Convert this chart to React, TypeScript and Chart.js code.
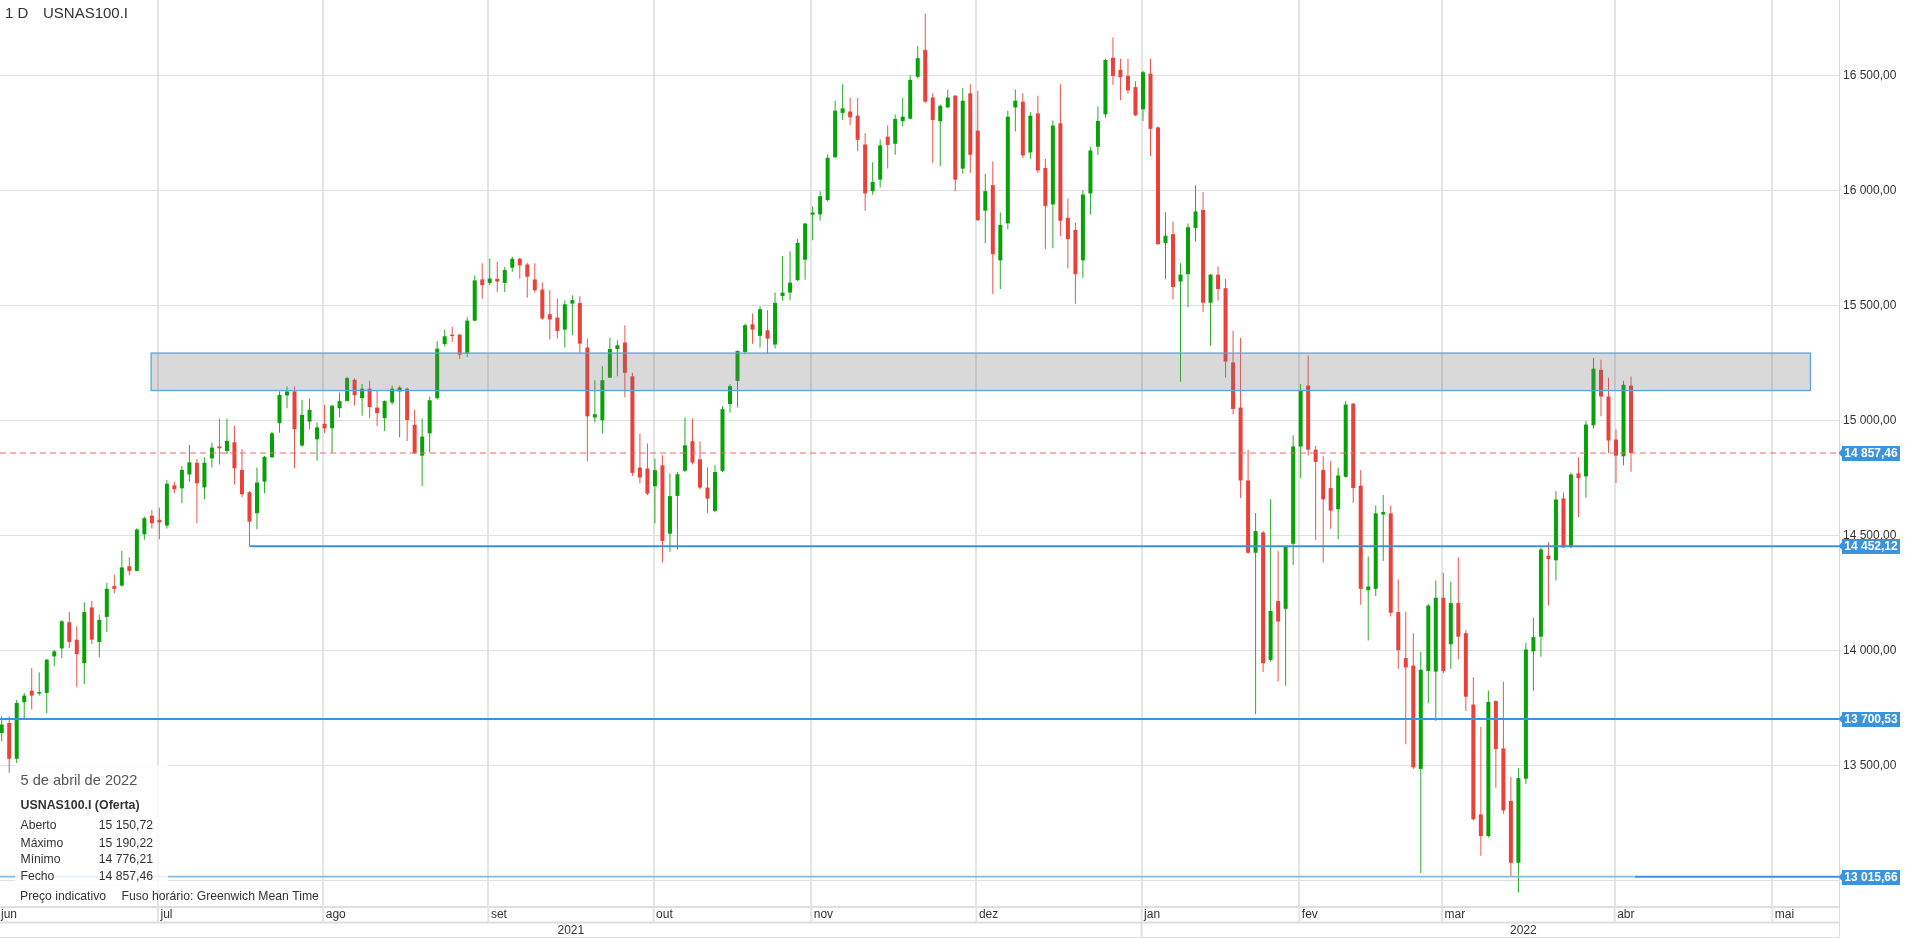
import React, { useEffect, useRef } from 'react';
import { Chart, registerables } from 'chart.js';

Chart.register(...registerables);

const FONT = '"Liberation Sans", Arial, sans-serif';

const SYMBOL = 'USNAS100.I';
const PERIOD = '1 D';

// Daily candles (weekdays), index 0 = first visible candle (early June 2021), last = 5 Apr 2022
const OPEN = [
  13640, 13684, 13528, 13774, 13824, 13812, 13814, 13973, 14008, 14122,
  14046, 13944, 14186, 14036, 14145, 14279, 14281, 14365, 14345, 14504,
  14585, 14567, 14542, 14717, 14704, 14764, 14815, 14708, 14834, 14886,
  14866, 14904, 14784, 14687, 14596, 14733, 14839, 14987, 15108, 15125,
  14890, 14994, 14917, 14984, 14965, 15052, 15084, 15176, 15096, 15137,
  15055, 15009, 15077, 15125, 15137, 14980, 14846, 14943, 15096, 15331,
  15372, 15372, 15289, 15433, 15612, 15597, 15615, 15597, 15663, 15702,
  15677, 15612, 15568, 15461, 15446, 15394, 15507, 15510, 15316, 15012,
  15000, 15185, 15310, 15338, 15191, 14794, 14790, 14713, 14804, 14507,
  14671, 14780, 14909, 14830, 14707, 14606, 14780, 15070, 15171, 15297,
  15417, 15367, 15391, 15329, 15540, 15555, 15609, 15698, 15894, 15895,
  15957, 16144, 16336, 16342, 16324, 16199, 15996, 16046, 16233, 16202,
  16300, 16311, 16493, 16610, 16403, 16300, 16360, 16411, 16094, 16421,
  16259, 15911, 16022, 15695, 15856, 16360, 16385, 16164, 16334, 16097,
  15938, 16291, 15880, 15827, 15695, 15986, 16189, 16330, 16576, 16523,
  16497, 16448, 16352, 16507, 16273, 15770, 15809, 15603, 15635, 15835,
  15914, 15511, 15633, 15574, 15251, 15055, 14738, 14424, 14512, 13958,
  14214, 14180, 14463, 14886, 15151, 14872, 14784, 14705, 14613, 14754,
  15072, 14715, 14261, 14267, 14590, 14595, 14166, 13966, 13933, 13484,
  13910, 13907, 14228, 14026, 14205, 14074, 13764, 13286, 13192, 13779,
  13573, 13345, 13076, 13441, 13995, 14059, 14411, 14391, 14660, 14453,
  14769, 14756, 14978, 15219, 15103, 14916, 14843, 15150.72,
];
const HIGH = [
  13713, 13713, 13785, 13814, 13923, 13904, 13962, 14002, 14130, 14166,
  14104, 14209, 14215, 14154, 14292, 14328, 14432, 14404, 14530, 14581,
  14610, 14620, 14740, 14732, 14801, 14892, 14831, 14839, 14902, 15006,
  15006, 14975, 14875, 14692, 14795, 14845, 14950, 15125, 15147, 15147,
  15089, 15093, 14990, 15067, 15067, 15121, 15189, 15183, 15157, 15172,
  15131, 15087, 15151, 15150, 15142, 15045, 15007, 15103, 15344, 15394,
  15406, 15376, 15449, 15629, 15682, 15703, 15689, 15666, 15711, 15706,
  15685, 15682, 15600, 15565, 15529, 15522, 15543, 15539, 15355, 15174,
  15235, 15359, 15348, 15413, 15206, 14942, 14899, 14833, 14848, 14768,
  14775, 15012, 15007, 14909, 14794, 14804, 15061, 15156, 15304, 15420,
  15464, 15496, 15478, 15555, 15713, 15735, 15788, 15859, 15930, 15996,
  16156, 16389, 16461, 16401, 16401, 16248, 16122, 16220, 16281, 16329,
  16401, 16501, 16627, 16768, 16422, 16372, 16438, 16414, 16444, 16461,
  16432, 16072, 16125, 15903, 16346, 16438, 16422, 16339, 16411, 16137,
  16303, 16461, 15964, 15860, 16000, 16189, 16365, 16572, 16664, 16572,
  16572, 16474, 16519, 16572, 16277, 15904, 15864, 15682, 15855, 16022,
  15992, 15636, 15668, 15615, 15389, 15357, 14872, 14597, 14518, 14656,
  14430, 14454, 14935, 15157, 15281, 14888, 14843, 14823, 14793, 15084,
  15076, 14784, 14407, 14629, 14675, 14629, 14307, 14168, 14074, 13992,
  14202, 14303, 14337, 14298, 14404, 14088, 13883, 13666, 13825, 13782,
  13863, 13449, 13487, 14031, 14140, 14447, 14469, 14691, 14686, 14772,
  14839, 14997, 15270, 15263, 15185, 14960, 15172, 15190.22,
];
const LOW = [
  13604, 13467, 13510, 13698, 13742, 13803, 13727, 13930, 13966, 14010,
  13840, 13853, 14027, 13970, 14079, 14248, 14277, 14325, 14342, 14480,
  14529, 14483, 14529, 14682, 14639, 14733, 14552, 14656, 14795, 14807,
  14853, 14721, 14665, 14454, 14526, 14682, 14836, 14946, 15052, 14791,
  14885, 14961, 14824, 14943, 14859, 15013, 15081, 15064, 15019, 15009,
  14975, 14953, 15067, 14926, 14910, 14853, 14714, 14860, 15090, 15321,
  15340, 15266, 15275, 15430, 15528, 15587, 15558, 15558, 15645, 15615,
  15532, 15554, 15437, 15351, 15355, 15316, 15369, 15293, 14822, 14990,
  14942, 15184, 15191, 15099, 14757, 14725, 14675, 14551, 14381, 14428,
  14438, 14775, 14807, 14699, 14598, 14600, 14775, 15033, 15055, 15287,
  15333, 15316, 15290, 15312, 15519, 15522, 15604, 15611, 15782, 15867,
  15952, 16140, 16305, 16284, 16169, 15911, 15980, 16012, 16094, 16154,
  16277, 16307, 16487, 16378, 16118, 16104, 16357, 15996, 16072, 16076,
  15866, 15769, 15549, 15571, 15830, 16255, 16140, 16137, 16075, 15744,
  15748, 15801, 15661, 15506, 15618, 15894, 16153, 16316, 16458, 16391,
  16421, 16322, 16301, 16149, 15762, 15613, 15526, 15167, 15491, 15776,
  15471, 15324, 15521, 15186, 15025, 14662, 14420, 13722, 13905, 13950,
  13864, 13846, 14371, 14748, 14847, 14479, 14381, 14528, 14483, 14750,
  14640, 14198, 14042, 14236, 14388, 14147, 13919, 13591, 13484, 13032,
  13770, 13692, 13900, 13919, 13961, 13736, 13260, 13107, 13186, 13402,
  13289, 13018, 12947, 13418, 13824, 13972, 14194, 14303, 14443, 14443,
  14579, 14663, 14963, 15017, 14857, 14727, 14804, 14776.21,
];
const CLOSE = [
  13677, 13528, 13771, 13803, 13803, 13818, 13959, 13995, 14126, 14036,
  13983, 14166, 14046, 14132, 14267, 14267, 14360, 14345, 14525, 14574,
  14552, 14556, 14724, 14700, 14784, 14817, 14726, 14815, 14881, 14878,
  14910, 14791, 14678, 14559, 14729, 14841, 14943, 15110, 15125, 14961,
  15023, 15045, 14969, 14965, 15063, 15083, 15183, 15109, 15137, 15057,
  15031, 15083, 15137, 15142, 15001, 14856, 14929, 15087, 15311, 15365,
  15366, 15285, 15433, 15608, 15587, 15616, 15603, 15653, 15702, 15673,
  15624, 15565, 15442, 15438, 15388, 15504, 15522, 15333, 15017, 15026,
  15174, 15310, 15326, 15206, 14771, 14751, 14681, 14783, 14475, 14670,
  14765, 14891, 14816, 14707, 14659, 14775, 15048, 15148, 15301, 15413,
  15394, 15483, 15355, 15510, 15555, 15598, 15771, 15855, 15903, 15974,
  16141, 16346, 16356, 16317, 16219, 15986, 16036, 16195, 16197, 16310,
  16320, 16480, 16574, 16385, 16305, 16367, 16403, 16046, 16389, 16154,
  15870, 15996, 15722, 15849, 16320, 16389, 16151, 16324, 16086, 15931,
  16281, 15867, 15787, 15635, 15981, 16173, 16301, 16566, 16497, 16491,
  16434, 16326, 16513, 16267, 15766, 15802, 15579, 15633, 15839, 15908,
  15511, 15633, 15570, 15255, 15049, 14738, 14424, 14518, 13943, 14171,
  14125, 14450, 14886, 15128, 14872, 14819, 14656, 14607, 14760, 15068,
  14705, 14267, 14277, 14595, 14601, 14163, 14000, 13925, 13491, 13915,
  14194, 14228, 13910, 14205, 14059, 13798, 13265, 13192, 13775, 13570,
  13304, 13076, 13444, 14003, 14057, 14438, 14396, 14655, 14447, 14764,
  14748, 14981, 15224, 15103, 14912, 14846, 15154, 14857.46,
];

// Month boundaries (candle index of first trading day of each month)
const MONTH_LABELS = ['jun', 'jul', 'ago', 'set', 'out', 'nov', 'dez', 'jan', 'fev', 'mar', 'abr', 'mai'];
const MONTH_START_INDEX = [-1, 21, 43, 65, 87, 108, 130, 152, 173, 192, 215, 236];
const YEAR_LABELS = ['2021', '2022'];
const YEAR_START_MONTH = [0, 7];

const Y_TICKS = [13000, 13500, 14000, 14500, 15000, 15500, 16000, 16500];

const LAST_CLOSE = 14857.46;
const LEVEL_1 = 14452.12;
const LEVEL_2 = 13700.53;
const LEVEL_3 = 13015.66;
const LEVEL_1_FROM = 33;
const ZONE_LOW = 15129;
const ZONE_HIGH = 15292;
const ZONE_FROM = 19.9;
const ZONE_TO = 240.9;

const INFO_DATE = '5 de abril de 2022';
const INFO_TITLE = 'USNAS100.I (Oferta)';
const INFO_LABELS = ['Aberto', 'Máximo', 'Mínimo', 'Fecho'];
const INFO_VALUES = [15150.72, 15190.22, 14776.21, 14857.46];

const X_MIN = -0.226;
const X_MAX = 244.7;
const Y_MIN = 12888;
const Y_MAX = 16827;

const GREEN = '#07a207';
const RED = '#e9423a';
const GREEN_WICK = '#2aab2a';
const RED_WICK = '#ec544c';
const BLUE = '#3a93dc';

function fmt(v: number): string {
  const [i, d] = v.toFixed(2).split('.');
  return i.replace(/\B(?=(\d{3})+(?!\d))/g, ' ') + ',' + d;
}

const overlayPlugin = {
  id: 'overlayPlugin',
  afterDatasetsDraw(chart: any) {
    const { ctx, chartArea, scales } = chart;
    const x = scales.x;
    const y = scales.y;
    ctx.save();
    ctx.beginPath();
    ctx.rect(chartArea.left, chartArea.top, chartArea.right - chartArea.left, chartArea.bottom - chartArea.top);
    ctx.clip();

    // zone
    const zx1 = x.getPixelForValue(ZONE_FROM);
    const zx2 = x.getPixelForValue(ZONE_TO);
    const zy1 = y.getPixelForValue(ZONE_HIGH);
    const zy2 = y.getPixelForValue(ZONE_LOW);
    ctx.fillStyle = 'rgba(120,120,120,0.28)';
    ctx.fillRect(zx1, zy1, zx2 - zx1, zy2 - zy1);
    ctx.strokeStyle = '#5aa5e0';
    ctx.lineWidth = 1.3;
    ctx.strokeRect(zx1, zy1, zx2 - zx1, zy2 - zy1);

    // last close dashed
    const yc = y.getPixelForValue(LAST_CLOSE);
    ctx.strokeStyle = '#ef6a62';
    ctx.lineWidth = 1.2;
    ctx.setLineDash([6, 4]);
    ctx.beginPath();
    ctx.moveTo(chartArea.left, yc);
    ctx.lineTo(chartArea.right, yc);
    ctx.stroke();
    ctx.setLineDash([]);

    // levels
    ctx.strokeStyle = BLUE;
    ctx.lineWidth = 2;
    const y1 = y.getPixelForValue(LEVEL_1);
    ctx.beginPath();
    ctx.moveTo(x.getPixelForValue(LEVEL_1_FROM), y1);
    ctx.lineTo(chartArea.right, y1);
    ctx.stroke();
    const y2 = y.getPixelForValue(LEVEL_2);
    ctx.beginPath();
    ctx.moveTo(chartArea.left, y2);
    ctx.lineTo(chartArea.right, y2);
    ctx.stroke();
    const y3 = y.getPixelForValue(LEVEL_3);
    const split = x.getPixelForValue(217.5);
    ctx.strokeStyle = '#7fbce9';
    ctx.lineWidth = 1.6;
    ctx.beginPath();
    ctx.moveTo(chartArea.left, y3);
    ctx.lineTo(split, y3);
    ctx.stroke();
    ctx.strokeStyle = BLUE;
    ctx.lineWidth = 2;
    ctx.beginPath();
    ctx.moveTo(split, y3);
    ctx.lineTo(chartArea.right, y3);
    ctx.stroke();
    ctx.restore();
  },
  afterDraw(chart: any) {
    const { ctx, chartArea, scales, width, height } = chart;
    const x = scales.x;
    const y = scales.y;
    ctx.save();

    // x-axis frame lines
    ctx.strokeStyle = '#dedede';
    ctx.lineWidth = 2;
    ctx.beginPath();
    ctx.moveTo(0, chartArea.bottom + 1);
    ctx.lineTo(chartArea.right, chartArea.bottom + 1);
    ctx.moveTo(0, 922.5);
    ctx.lineTo(chartArea.right, 922.5);
    ctx.stroke();
    ctx.lineWidth = 1;
    ctx.beginPath();
    ctx.moveTo(0, height - 0.5);
    ctx.lineTo(chartArea.right, height - 0.5);
    ctx.moveTo(chartArea.right + 0.5, chartArea.bottom);
    ctx.lineTo(chartArea.right + 0.5, height);
    ctx.stroke();

    // month labels + tick lines
    ctx.font = '12px ' + FONT;
    ctx.fillStyle = '#333';
    ctx.textBaseline = 'middle';
    ctx.textAlign = 'left';
    MONTH_LABELS.forEach((m, i) => {
      const px = x.getPixelForValue(MONTH_START_INDEX[i] - 0.18);
      if (px > chartArea.left) {
        ctx.strokeStyle = '#e4e4e4';
        ctx.lineWidth = 2;
        ctx.beginPath();
        ctx.moveTo(px, chartArea.bottom);
        ctx.lineTo(px, 922);
        ctx.stroke();
      }
      ctx.fillText(m, Math.max(px + 2.5, 1), 914.5);
    });

    // year labels
    const yearEdges = YEAR_START_MONTH.map((mi) => Math.max(x.getPixelForValue(MONTH_START_INDEX[mi] - 0.18), 0));
    ctx.textAlign = 'center';
    YEAR_LABELS.forEach((lab, i) => {
      const a = yearEdges[i];
      const b = i + 1 < yearEdges.length ? yearEdges[i + 1] : width;
      ctx.fillText(lab, (a + b) / 2, 931);
    });
    ctx.strokeStyle = '#e0e0e0';
    ctx.lineWidth = 2;
    ctx.beginPath();
    ctx.moveTo(yearEdges[1], 922.5);
    ctx.lineTo(yearEdges[1], height);
    ctx.stroke();

    // price badges
    const badges = [LAST_CLOSE, LEVEL_1, LEVEL_2, LEVEL_3];
    ctx.font = 'bold 12px ' + FONT;
    badges.forEach((v) => {
      const py = Math.round(y.getPixelForValue(v));
      const bx = chartArea.right + 3;
      ctx.fillStyle = BLUE;
      ctx.beginPath();
      ctx.moveTo(chartArea.right - 0.5, py);
      ctx.lineTo(bx, py - 4);
      ctx.lineTo(bx, py + 4);
      ctx.closePath();
      ctx.fill();
      ctx.fillRect(bx, py - 7, 58, 15);
      ctx.fillStyle = '#fff';
      ctx.textAlign = 'center';
      ctx.textBaseline = 'middle';
      ctx.fillText(fmt(v), bx + 29, py + 0.5);
    });

    // title
    ctx.fillStyle = '#333';
    ctx.textAlign = 'left';
    ctx.textBaseline = 'middle';
    ctx.font = '15px ' + FONT;
    ctx.fillText(PERIOD, 5, 14);
    ctx.fillText(SYMBOL, 43, 14);

    // info box
    ctx.fillStyle = 'rgba(255,255,255,0.82)';
    ctx.fillRect(15, 765, 153, 125);
    ctx.fillStyle = '#555';
    ctx.font = '14.6px ' + FONT;
    ctx.fillText(INFO_DATE, 20.5, 781);
    ctx.fillStyle = '#333';
    ctx.font = 'bold 12.4px ' + FONT;
    ctx.fillText(INFO_TITLE, 20.5, 806);
    ctx.font = '12.2px ' + FONT;
    const rowsY = [826, 843.5, 860, 877];
    INFO_LABELS.forEach((lab, i) => {
      ctx.textAlign = 'left';
      ctx.fillText(lab, 20.5, rowsY[i]);
      ctx.textAlign = 'right';
      ctx.fillText(fmt(INFO_VALUES[i]), 153, rowsY[i]);
    });
    ctx.textAlign = 'left';
    ctx.fillText('Preço indicativo', 20, 897);
    ctx.fillText('Fuso horário: Greenwich Mean Time', 121.5, 897);
    ctx.restore();
  },
};

export default function App() {
  const canvasRef = useRef<HTMLCanvasElement | null>(null);

  useEffect(() => {
    const canvas = canvasRef.current;
    if (!canvas) return;
    const up = CLOSE.map((c, i) => c >= OPEN[i]);
    const chart = new Chart(canvas, {
      type: 'bar',
      data: {
        datasets: [
          {
            label: 'body',
            data: OPEN.map((o, i) => ({ x: i, y: [o, CLOSE[i]] })) as any,
            backgroundColor: up.map((u) => (u ? GREEN : RED)),
            grouped: false,
            maxBarThickness: 4,
            minBarLength: 1,
            borderWidth: 0,
            borderSkipped: false,
          } as any,
          {
            label: 'wick',
            data: LOW.map((l, i) => ({ x: i, y: [l, HIGH[i]] })) as any,
            backgroundColor: up.map((u) => (u ? GREEN_WICK : RED_WICK)),
            grouped: false,
            maxBarThickness: 1,
            borderWidth: 0,
            borderSkipped: false,
          } as any,
        ],
      },
      options: {
        responsive: false,
        animation: false,
        events: [],
        layout: { padding: 0 },
        plugins: {
          legend: { display: false },
          tooltip: { enabled: false },
          title: { display: false },
        },
        scales: {
          x: {
            type: 'linear',
            min: X_MIN,
            max: X_MAX,
            bounds: 'data',
            offset: false,
            grid: { color: '#e4e4e4', lineWidth: 2, drawTicks: false, offset: false },
            border: { display: false },
            ticks: { display: false },
            afterBuildTicks: (s: any) => {
              s.ticks = MONTH_START_INDEX.filter((v) => v >= 0).map((v) => ({ value: v - 0.18 }));
            },
            afterFit: (s: any) => {
              s.height = 32;
              s.paddingLeft = 0;
              s.paddingRight = 0;
            },
          },
          y: {
            type: 'linear',
            position: 'right',
            min: Y_MIN,
            max: Y_MAX,
            bounds: 'data',
            grid: { color: '#e0e0e0', lineWidth: 1, drawTicks: false, offset: false },
            border: { display: true, color: '#d8d8d8', width: 1 },
            ticks: {
              color: '#333',
              padding: 4,
              font: { size: 12, family: FONT },
              callback: (v: any) => (Number(v) === 13000 ? '' : fmt(Number(v))),
            },
            afterBuildTicks: (s: any) => {
              s.ticks = Y_TICKS.map((v) => ({ value: v }));
            },
            afterFit: (s: any) => {
              s.width = 66;
              s.paddingTop = 0;
              s.paddingBottom = 0;
            },
          },
        },
      } as any,
      plugins: [overlayPlugin],
    });
    return () => chart.destroy();
  }, []);

  return (
    <div style={{ position: 'absolute', left: 0, top: 0, width: 1905, height: 938, background: '#fff' }}>
      <canvas ref={canvasRef} width={1905} height={938} style={{ display: 'block' }} />
    </div>
  );
}
